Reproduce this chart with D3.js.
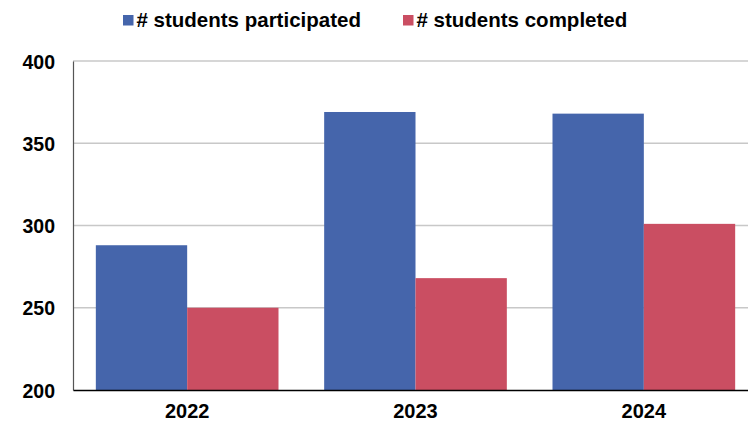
<!DOCTYPE html>
<html>
<head>
<meta charset="utf-8">
<script src="https://cdn.jsdelivr.net/npm/d3@7"></script>
<style>
  html, body { margin: 0; padding: 0; background: #fff; }
  svg { display: block; }
  text { font-family: "Liberation Sans", Arial, sans-serif; font-weight: bold; fill: #000; }
</style>
</head>
<body>
<svg id="chart" width="748" height="427"></svg>
<script>
const categories = ["2022", "2023", "2024"];
const seriesNames = ["# students participated", "# students completed"];
const participated = [288, 369, 368];
const completed = [250, 268, 301];
const yTicks = [200, 250, 300, 350, 400];
const colors = ["#4565AB", "#CA4E62"];

const svg = d3.select("#chart");
const plotLeft = 73, plotRight = 758, plotTop = 61, plotBottom = 390;

const x0 = d3.scaleBand().domain(categories).range([plotLeft, plotRight]).paddingInner(0.2).paddingOuter(0.1);
const x1 = d3.scaleBand().domain([0, 1]).range([0, x0.bandwidth()]);
const y = d3.scaleLinear().domain([200, 400]).range([plotBottom, plotTop]);

// gridlines
svg.append("g").selectAll("line").data(yTicks.filter(t => t > 200)).join("line")
  .attr("x1", plotLeft).attr("x2", plotRight)
  .attr("y1", d => y(d)).attr("y2", d => y(d))
  .attr("stroke", "#c8c8c8").attr("stroke-width", 1.5);

// bars
const data = categories.map((c, i) => ({ c, vals: [participated[i], completed[i]] }));
const g = svg.append("g").selectAll("g").data(data).join("g")
  .attr("transform", d => `translate(${x0(d.c)},0)`);
g.selectAll("rect").data(d => d.vals.map((v, k) => ({ v, k }))).join("rect")
  .attr("x", d => x1(d.k)).attr("width", x1.bandwidth())
  .attr("y", d => y(d.v)).attr("height", d => y(200) - y(d.v))
  .attr("fill", d => colors[d.k]);

// left axis
const yAxis = d3.axisLeft(y).tickValues(yTicks).tickSize(0).tickPadding(18);
const ya = svg.append("g").attr("transform", `translate(${plotLeft},0)`).call(yAxis);
ya.select(".domain").attr("stroke", "#555").attr("stroke-width", 1.2);
ya.selectAll("text").style("font-size", "19.5px").attr("dy", "0.36em");

// bottom axis
const xAxis = d3.axisBottom(x0).tickSize(0).tickPadding(14);
const xa = svg.append("g").attr("transform", `translate(0,${plotBottom})`).call(xAxis);
xa.select(".domain").attr("stroke", "#000").attr("stroke-width", 1.6);
xa.selectAll("text").style("font-size", "20px");

// legend
const legendX = [123, 403];
const lg = svg.append("g").selectAll("g").data(seriesNames).join("g")
  .attr("transform", (d, i) => `translate(${legendX[i]},0)`);
lg.append("rect").attr("x", 0).attr("y", 15).attr("width", 10.5).attr("height", 10.5)
  .attr("fill", (d, i) => colors[i]);
lg.append("text").attr("x", 13.5).attr("y", 26.5).style("font-size", "20.5px").text(d => d);
</script>
</body>
</html>
